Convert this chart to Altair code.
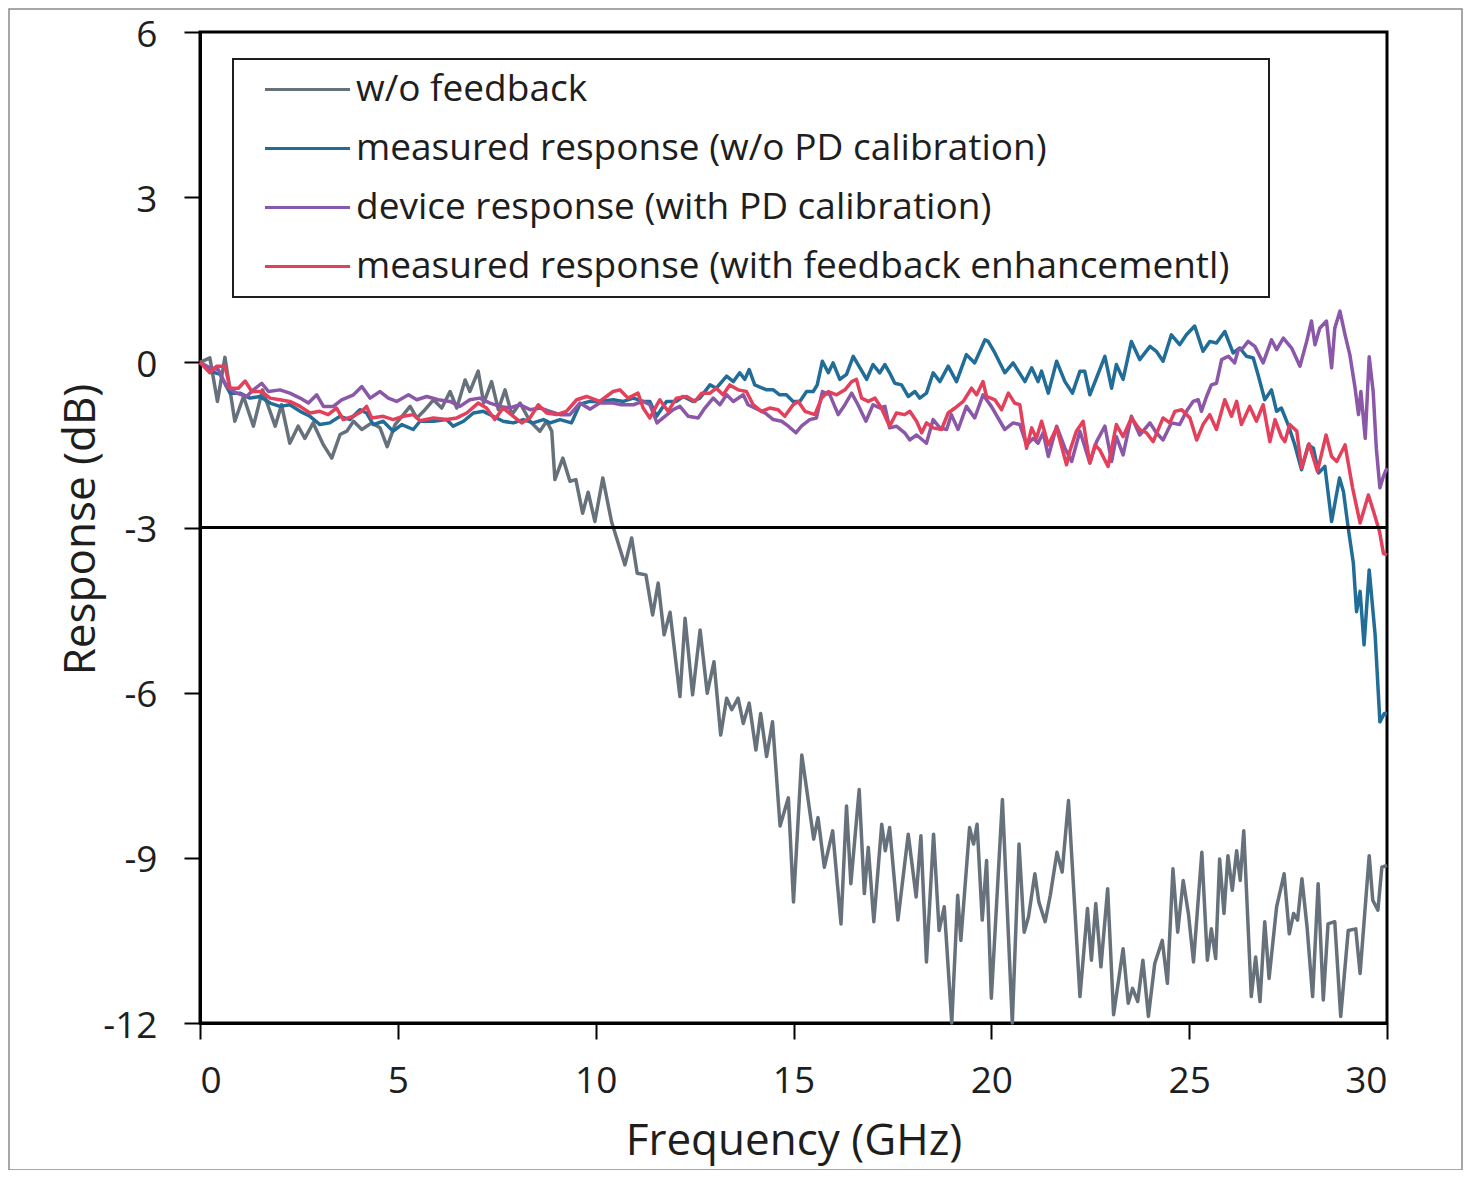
import altair as alt
import pandas as pd

series_names = [
    "w/o feedback",
    "measured response (w/o PD calibration)",
    "device response (with PD calibration)",
    "measured response (with feedback enhancementl)",
]
series_colors = ["#66717b", "#226d97", "#8b57a9", "#e2405b"]

x_ticks = [0, 5, 10, 15, 20, 25, 30]
y_ticks = [-12, -9, -6, -3, 0, 3, 6]
threshold_db = [-3]

gray_f = [0.00, 0.25, 0.44, 0.63, 0.88, 1.10, 1.35, 1.58, 1.90, 2.06, 2.27, 2.48, 2.65, 2.86, 3.12, 3.33,
          3.54, 3.71, 3.88, 4.09, 4.34, 4.55, 4.73, 4.93, 5.14, 5.31, 5.48, 5.65, 5.90, 6.11, 6.32, 6.49,
          6.70, 6.82, 7.03, 7.17, 7.37, 7.54, 7.71, 7.88, 8.09, 8.34, 8.59, 8.76, 8.89, 8.97, 9.17, 9.35,
          9.50, 9.67, 9.81, 9.98, 10.18, 10.40, 10.74, 10.91, 11.05, 11.27, 11.44, 11.58, 11.73, 11.88,
          12.13, 12.26, 12.45, 12.64, 12.82, 12.99, 13.16, 13.31, 13.44, 13.60, 13.73, 13.88, 14.05, 14.17,
          14.32, 14.47, 14.66, 14.87, 15.00, 15.21, 15.51, 15.62, 15.78, 15.99, 16.20, 16.34, 16.45, 16.66,
          16.79, 16.89, 17.03, 17.23, 17.32, 17.43, 17.64, 17.90, 18.10, 18.22, 18.36, 18.54, 18.68, 18.81,
          19.00, 19.15, 19.23, 19.45, 19.55, 19.64, 19.77, 19.88, 20.00, 20.28, 20.53, 20.70, 20.83, 20.94,
          21.10, 21.20, 21.36, 21.49, 21.66, 21.79, 21.95, 22.24, 22.43, 22.53, 22.64, 22.77, 22.94, 23.09,
          23.33, 23.46, 23.57, 23.70, 23.83, 23.97, 24.13, 24.32, 24.45, 24.59, 24.71, 24.85, 24.98, 25.11,
          25.32, 25.46, 25.56, 25.67, 25.77, 25.88, 25.98, 26.09, 26.20, 26.29, 26.38, 26.57, 26.68, 26.79,
          26.91, 27.02, 27.21, 27.40, 27.53, 27.64, 27.74, 27.85, 27.98, 28.12, 28.26, 28.39, 28.51, 28.68,
          28.83, 29.02, 29.21, 29.32, 29.55, 29.64, 29.77, 29.87, 30.00]
gray_db = [0.00, 0.08, -0.71, 0.09, -1.07, -0.62, -1.16, -0.50, -1.16, -0.77, -1.47, -1.16, -1.38, -1.10,
           -1.50, -1.74, -1.31, -1.25, -1.07, -1.22, -1.10, -1.19, -1.53, -1.13, -0.95, -0.80, -1.01, -0.89,
           -0.68, -0.83, -0.53, -0.83, -0.32, -0.53, -0.16, -0.74, -0.35, -0.86, -0.50, -0.95, -0.74, -1.07,
           -1.25, -1.07, -1.25, -2.13, -1.74, -2.16, -2.13, -2.74, -2.36, -2.89, -2.10, -2.89, -3.68, -3.19,
           -3.83, -3.86, -4.59, -4.01, -4.95, -4.54, -6.07, -4.65, -6.04, -4.86, -6.01, -5.44, -6.77, -6.10,
           -6.31, -6.10, -6.56, -6.19, -7.04, -6.38, -7.16, -6.53, -8.42, -7.91, -9.80, -7.13, -8.66, -8.27,
           -9.17, -8.51, -10.20, -8.06, -9.47, -7.76, -9.65, -8.81, -10.16, -8.39, -8.87, -8.45, -10.13,
           -8.57, -9.71, -8.60, -10.89, -8.57, -10.32, -9.89, -12.00, -9.68, -10.50, -8.45, -8.75, -8.39,
           -10.13, -9.05, -11.55, -7.94, -12.00, -8.75, -10.35, -10.07, -9.29, -9.80, -10.16, -9.68, -8.90,
           -9.26, -7.96, -11.52, -9.92, -10.86, -9.83, -10.98, -9.56, -11.85, -10.65, -11.64, -11.37, -11.61,
           -10.86, -11.88, -10.92, -10.50, -11.28, -9.20, -10.35, -9.41, -10.01, -10.89, -8.90, -10.86,
           -10.29, -10.83, -9.02, -10.01, -8.96, -9.59, -8.87, -9.41, -8.51, -11.52, -10.80, -11.61, -10.16,
           -11.19, -9.89, -9.29, -10.38, -10.01, -10.13, -9.38, -10.26, -11.52, -9.47, -11.58, -10.20, -10.16,
           -11.88, -10.32, -10.29, -11.10, -8.96, -9.77, -9.95, -9.17, -9.14]

blue_f = [0.00, 0.25, 0.51, 0.76, 1.01, 1.26, 1.52, 1.77, 2.02, 2.27, 2.53, 2.78, 3.03, 3.28, 3.54, 3.79,
          4.04, 4.21, 4.38, 4.63, 4.88, 5.10, 5.39, 5.56, 5.90, 6.23, 6.40, 6.66, 6.91, 7.16, 7.41, 7.66,
          7.92, 8.17, 8.42, 8.68, 8.85, 9.10, 9.39, 9.60, 9.85, 10.10, 10.44, 10.70, 10.95, 11.20, 11.37,
          11.54, 11.79, 12.04, 12.21, 12.46, 12.63, 12.89, 13.05, 13.31, 13.48, 13.64, 13.77, 13.88, 14.02,
          14.32, 14.49, 14.65, 14.82, 14.99, 15.16, 15.33, 15.50, 15.60, 15.73, 15.88, 16.00, 16.17, 16.34,
          16.51, 16.68, 16.85, 17.01, 17.18, 17.31, 17.43, 17.56, 17.73, 17.90, 18.07, 18.19, 18.36, 18.53,
          18.70, 18.91, 19.12, 19.37, 19.58, 19.84, 19.92, 20.09, 20.34, 20.55, 20.85, 21.02, 21.18, 21.27,
          21.44, 21.65, 21.86, 22.05, 22.24, 22.36, 22.49, 22.66, 22.87, 23.04, 23.16, 23.33, 23.54, 23.75,
          24.01, 24.17, 24.34, 24.55, 24.76, 24.93, 25.14, 25.35, 25.52, 25.69, 25.90, 26.11, 26.28, 26.45,
          26.62, 26.74, 26.91, 27.08, 27.21, 27.33, 27.50, 27.67, 27.84, 28.01, 28.14, 28.27, 28.43, 28.60,
          28.80, 28.90, 29.02, 29.15, 29.23, 29.32, 29.42, 29.55, 29.70, 29.82, 29.93, 30.00]
blue_db = [0.00, -0.16, -0.22, -0.56, -0.56, -0.65, -0.62, -0.74, -0.80, -0.77, -0.89, -0.98, -1.13, -1.10,
           -0.98, -1.04, -0.86, -0.92, -1.13, -1.07, -1.25, -1.13, -1.22, -1.07, -1.07, -1.04, -1.16, -1.07,
           -0.92, -0.89, -0.98, -1.07, -1.10, -1.04, -1.10, -1.04, -1.10, -1.04, -1.10, -0.76, -0.71, -0.71,
           -0.68, -0.71, -0.65, -0.71, -0.71, -0.98, -0.71, -0.71, -0.62, -0.71, -0.65, -0.41, -0.47, -0.25,
           -0.35, -0.19, -0.31, -0.13, -0.41, -0.50, -0.50, -0.59, -0.59, -0.71, -0.71, -0.53, -0.53, -0.41,
           0.02, -0.19, -0.01, -0.31, -0.22, 0.11, -0.10, -0.31, -0.04, -0.19, -0.04, -0.19, -0.38, -0.41,
           -0.62, -0.53, -0.65, -0.56, -0.19, -0.35, -0.07, -0.35, 0.14, -0.01, 0.41, 0.38, 0.17, -0.19,
           -0.01, -0.35, -0.10, -0.35, -0.16, -0.56, 0.02, -0.35, -0.56, -0.16, -0.16, -0.59, -0.28, 0.11,
           -0.47, -0.04, -0.31, 0.38, 0.05, 0.29, 0.20, 0.02, 0.50, 0.32, 0.50, 0.66, 0.20, 0.38, 0.35, 0.56,
           0.17, 0.26, 0.11, 0.08, -0.22, -0.68, -0.50, -0.89, -0.83, -1.13, -1.50, -1.95, -1.50, -1.56,
           -2.01, -1.89, -2.89, -2.10, -2.35, -3.01, -3.65, -4.53, -4.16, -5.13, -3.77, -4.95, -6.53, -6.38,
           -6.38]

purple_f = [0.00, 0.25, 0.46, 0.67, 0.93, 1.18, 1.35, 1.56, 1.73, 2.02, 2.27, 2.53, 2.74, 2.95, 3.12, 3.37,
            3.58, 3.88, 4.09, 4.30, 4.55, 4.76, 4.97, 5.27, 5.48, 5.73, 6.02, 6.32, 6.57, 6.82, 7.07, 7.33,
            7.58, 7.83, 8.09, 8.34, 8.59, 8.85, 9.10, 9.35, 9.60, 9.86, 10.10, 10.44, 10.65, 10.95, 11.20,
            11.37, 11.55, 11.75, 11.96, 12.13, 12.34, 12.59, 12.76, 12.97, 13.14, 13.31, 13.48, 13.73, 13.85,
            14.02, 14.28, 14.49, 14.70, 14.87, 15.06, 15.20, 15.41, 15.58, 15.73, 15.92, 16.13, 16.30, 16.47,
            16.63, 16.83, 17.01, 17.18, 17.31, 17.43, 17.60, 17.81, 17.94, 18.11, 18.36, 18.53, 18.70, 18.87,
            18.99, 19.16, 19.37, 19.58, 19.79, 20.00, 20.34, 20.55, 20.72, 20.89, 21.06, 21.18, 21.31, 21.44,
            21.65, 21.86, 22.03, 22.24, 22.49, 22.66, 22.87, 23.04, 23.16, 23.33, 23.54, 23.75, 24.01, 24.17,
            24.34, 24.55, 24.76, 24.93, 25.10, 25.23, 25.31, 25.44, 25.56, 25.69, 25.82, 25.99, 26.15, 26.24,
            26.36, 26.49, 26.66, 26.87, 27.08, 27.21, 27.38, 27.59, 27.80, 27.97, 28.09, 28.18, 28.30, 28.47,
            28.60, 28.68, 28.81, 28.94, 29.06, 29.19, 29.28, 29.34, 29.45, 29.55, 29.65, 29.73, 29.82, 29.91,
            30.00]
purple_db = [0.00, -0.10, -0.13, -0.44, -0.56, -0.62, -0.50, -0.38, -0.53, -0.50, -0.56, -0.65, -0.74, -0.59,
             -0.80, -0.80, -0.68, -0.59, -0.44, -0.65, -0.53, -0.65, -0.71, -0.59, -0.68, -0.62, -0.68, -0.71,
             -0.80, -0.68, -0.65, -0.74, -0.80, -0.83, -0.77, -0.86, -0.83, -0.89, -0.95, -0.95, -0.74, -0.85,
             -0.74, -0.74, -0.77, -0.77, -0.71, -0.77, -1.10, -0.98, -0.86, -0.80, -0.98, -1.01, -0.83, -0.65,
             -0.77, -0.59, -0.71, -0.59, -0.77, -0.83, -0.92, -1.04, -1.07, -1.16, -1.28, -1.16, -1.04, -1.01,
             -0.53, -0.59, -0.95, -0.77, -0.56, -0.77, -1.07, -0.77, -0.83, -0.80, -1.19, -1.16, -1.28, -1.41,
             -1.32, -1.47, -1.04, -1.19, -1.22, -0.95, -1.22, -0.80, -1.01, -0.59, -0.80, -1.22, -1.10, -1.13,
             -1.50, -1.38, -1.47, -1.28, -1.71, -1.16, -1.56, -1.80, -1.25, -1.83, -1.44, -1.16, -1.80, -1.35,
             -1.68, -0.98, -1.32, -1.10, -1.28, -1.41, -1.10, -1.13, -0.89, -0.71, -0.68, -0.89, -0.62, -0.41,
             -0.38, 0.05, 0.11, -0.01, 0.23, 0.26, 0.38, 0.29, -0.01, 0.41, 0.23, 0.44, 0.26, -0.07, 0.38, 0.75,
             0.32, 0.62, 0.75, -0.10, 0.62, 0.93, 0.50, 0.14, -0.45, -0.95, -0.53, -1.38, 0.10, -0.53, -1.56,
             -2.28, -2.07, -1.92]

red_f = [0.00, 0.25, 0.42, 0.63, 0.76, 0.97, 1.14, 1.31, 1.56, 1.77, 2.02, 2.27, 2.53, 2.78, 3.03, 3.24,
         3.45, 3.62, 3.88, 4.09, 4.21, 4.34, 4.63, 4.88, 5.14, 5.39, 5.56, 5.90, 6.23, 6.49, 6.74, 7.03,
         7.24, 7.45, 7.66, 7.92, 8.13, 8.34, 8.55, 8.76, 9.01, 9.26, 9.52, 9.77, 10.10, 10.27, 10.44, 10.61,
         10.82, 11.07, 11.20, 11.37, 11.62, 11.83, 12.04, 12.30, 12.51, 12.68, 12.89, 13.05, 13.22, 13.39,
         13.60, 13.81, 13.98, 14.19, 14.40, 14.61, 14.78, 14.99, 15.12, 15.29, 15.54, 15.71, 15.88, 16.09,
         16.30, 16.47, 16.59, 16.72, 16.89, 17.06, 17.22, 17.43, 17.60, 17.81, 17.94, 18.11, 18.24, 18.36,
         18.53, 18.74, 18.91, 19.08, 19.29, 19.50, 19.63, 19.79, 19.88, 20.09, 20.26, 20.43, 20.59, 20.72,
         20.89, 21.02, 21.14, 21.27, 21.44, 21.65, 21.90, 21.98, 22.15, 22.32, 22.49, 22.62, 22.74, 22.95,
         23.16, 23.33, 23.54, 23.75, 23.92, 24.09, 24.34, 24.51, 24.64, 24.81, 25.02, 25.19, 25.35, 25.52,
         25.69, 25.90, 26.07, 26.20, 26.32, 26.53, 26.70, 26.87, 27.04, 27.17, 27.33, 27.42, 27.54, 27.72,
         27.84, 28.03, 28.24, 28.46, 28.60, 28.73, 28.94, 29.13, 29.32, 29.53, 29.66, 29.81, 29.91, 30.00]
red_db = [0.00, -0.19, -0.07, -0.07, -0.47, -0.47, -0.34, -0.53, -0.53, -0.65, -0.68, -0.71, -0.80, -0.92,
          -0.89, -0.95, -0.83, -1.04, -0.98, -0.89, -0.80, -1.01, -0.98, -1.04, -0.98, -0.95, -1.06, -1.01,
          -1.04, -1.01, -0.92, -0.74, -0.83, -1.04, -0.83, -0.98, -1.10, -1.01, -0.77, -0.92, -0.95, -0.89,
          -0.68, -0.62, -0.71, -0.62, -0.53, -0.50, -0.65, -0.56, -0.83, -1.01, -0.68, -0.89, -0.65, -0.62,
          -0.71, -0.56, -0.56, -0.47, -0.59, -0.41, -0.50, -0.53, -0.77, -0.89, -0.83, -0.86, -0.98, -0.77,
          -0.71, -0.89, -0.95, -0.65, -0.53, -0.59, -0.50, -0.35, -0.31, -0.65, -0.71, -0.65, -0.83, -1.16,
          -0.92, -0.95, -0.89, -1.07, -1.28, -1.10, -1.19, -1.22, -0.92, -0.83, -0.71, -0.47, -0.59, -0.35,
          -0.62, -0.68, -0.86, -0.56, -0.74, -0.77, -1.56, -1.19, -1.38, -1.07, -1.50, -1.19, -1.86, -1.62,
          -1.25, -1.07, -1.83, -1.50, -1.59, -1.89, -1.13, -1.35, -1.01, -1.22, -1.28, -1.44, -1.01, -1.10,
          -0.89, -0.86, -1.01, -1.41, -1.13, -0.95, -1.22, -0.68, -0.98, -0.71, -1.13, -0.80, -1.07, -0.77,
          -1.44, -1.04, -1.35, -1.44, -1.13, -1.25, -1.92, -1.48, -1.98, -1.32, -1.71, -1.80, -1.50, -2.28,
          -2.92, -2.41, -2.71, -3.07, -3.47, -3.50]

FONT = "Open Sans"
TXT = "#1e1e1e"

rows = []
for name, fs, vs in zip(series_names,
                        [gray_f, blue_f, purple_f, red_f],
                        [gray_db, blue_db, purple_db, red_db]):
    for f, v in zip(fs, vs):
        rows.append({"series": name, "freq": f, "db": v})
df = pd.DataFrame(rows)

x_enc = alt.X("freq:Q", scale=alt.Scale(domain=[0, 30], nice=False, zero=False),
              axis=alt.Axis(values=x_ticks, title="Frequency (GHz)", grid=False,
                            tickSize=16, tickWidth=2, tickColor="black",
                            domainWidth=3, domainColor="black",
                            labelFontSize=37, labelFont=FONT, labelColor=TXT, labelPadding=24,
                            labelExpr="datum.value + ''",
                            titleFontSize=44, titleFont=FONT, titleColor=TXT, titleFontWeight="normal",
                            titleX=593.5, titleY=131, titleBaseline="alphabetic", titleAlign="center"))
y_enc = alt.Y("db:Q", scale=alt.Scale(domain=[-12, 6], nice=False, zero=False),
              axis=alt.Axis(values=y_ticks, title="Response (dB)", grid=False,
                            tickSize=16, tickWidth=2, tickColor="black",
                            domainWidth=3, domainColor="black",
                            labelFontSize=37, labelFont=FONT, labelColor=TXT, labelPadding=27,
                            labelOffset=3,
                            labelExpr="datum.value + ''",
                            titleFontSize=44, titleFont=FONT, titleColor=TXT, titleFontWeight="normal",
                            titleX=-119, titleY=497, titleAngle=-90,
                            titleBaseline="middle", titleAlign="center"))

lines = alt.Chart(df).mark_line(strokeWidth=3.5, strokeJoin="round", clip=False).encode(
    x=x_enc,
    y=y_enc,
    color=alt.Color("series:N",
                    scale=alt.Scale(domain=series_names, range=series_colors),
                    sort=series_names,
                    legend=alt.Legend(title=None, orient="none", legendX=33, legendY=27,
                                      symbolType="M-4,0H4", symbolSize=452, symbolStrokeWidth=3,
                                      symbolOffset=44,
                                      labelFontSize=37, labelFont=FONT, labelColor=TXT,
                                      labelOffset=30, labelLimit=0,
                                      labelExpr="datum.label + '\u2800'",
                                      padding=12, rowPadding=21,
                                      strokeColor="#1e1e1e", fillColor="white")),
)

rule = alt.Chart(pd.DataFrame({"db": threshold_db})).mark_rule(color="black", strokeWidth=3).encode(
    y=alt.Y("db:Q")
)

frame = alt.Chart(alt.Data(values=[{"k": 1}])).mark_rect(
    fill=None, stroke="#8a8a8a", strokeWidth=1.5
).encode(
    x=alt.value(-191), x2=alt.value(1262), y=alt.value(-23), y2=alt.value(1138)
)

chart = alt.layer(frame, lines, rule).properties(
    width=1187, height=991,
    padding={"left": 192, "top": 24, "right": 76, "bottom": 147},
    autosize=alt.AutoSizeParams(type="none"),
    background="white",
).configure_view(stroke="black", strokeWidth=3).configure_legend(strokeWidth=2)

chart.save("out.html", embed_options={"renderer": "svg", "actions": False})
